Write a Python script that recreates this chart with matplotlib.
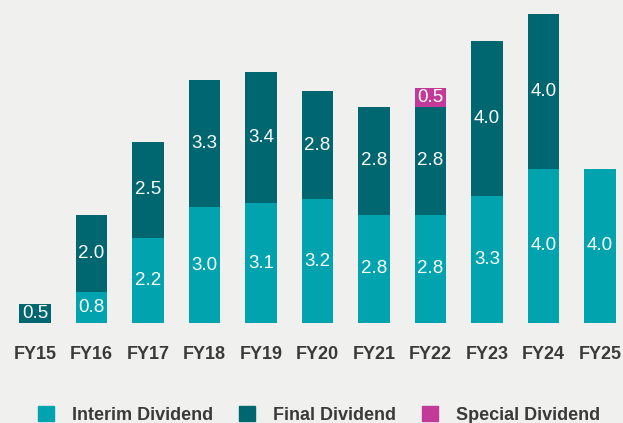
import matplotlib
matplotlib.use("Agg")
import matplotlib.pyplot as plt
from matplotlib.patches import Patch
import numpy as np

years = ["FY15", "FY16", "FY17", "FY18", "FY19", "FY20", "FY21", "FY22", "FY23", "FY24", "FY25"]
interim = [0.0, 0.8, 2.2, 3.0, 3.1, 3.2, 2.8, 2.8, 3.3, 4.0, 4.0]
final = [0.5, 2.0, 2.5, 3.3, 3.4, 2.8, 2.8, 2.8, 4.0, 4.0, 0.0]
special = [0.0, 0.0, 0.0, 0.0, 0.0, 0.0, 0.0, 0.5, 0.0, 0.0, 0.0]

c_int = "#00a3ae"
c_fin = "#00666f"
c_spe = "#c2399a"
bg = "#f0f0ee"
txt = "#3a3a3a"

plt.rcParams['font.family'] = ['Liberation Sans', 'DejaVu Sans']

W, H = 623, 423
fig = plt.figure(figsize=(W / 100, H / 100), dpi=100, facecolor=bg)
ax = fig.add_axes([0, (H - 323) / H, 1, 323 / H])
ax.set_facecolor(bg)

x = np.arange(len(years))
interim = np.array(interim)
final = np.array(final)
special = np.array(special)
width = 0.55

b1 = ax.bar(x, interim, width, color=c_int)
b2 = ax.bar(x, final, width, bottom=interim, color=c_fin)
b3 = ax.bar(x, special, width, bottom=interim + final, color=c_spe)

for bars, vals, bots in [(b1, interim, np.zeros_like(interim)), (b2, final, interim), (b3, special, interim + final)]:
    for xi, v, b in zip(x, vals, bots):
        if v > 0:
            ax.text(xi, b + v / 2, f"{v:.1f}", ha="center", va="center", color="white", fontsize=13.5)

px_per_unit = 38.6
ax.set_ylim(0, 323 / px_per_unit)
ax.set_xlim(-35 / 56.5, -35 / 56.5 + W / 56.5)
ax.set_yticks([])
ax.set_xticks(x)
ax.set_xticklabels(years, fontsize=13, fontweight="bold", color=txt)
ax.tick_params(axis="x", length=0, pad=16.5)
for s in ax.spines.values():
    s.set_visible(False)

handles = [Patch(color=c_int), Patch(color=c_fin), Patch(color=c_spe)]
labels = ["Interim Dividend", "Final Dividend", "Special Dividend"]
leg = fig.legend(handles, labels, loc="center left", bbox_to_anchor=(38 / W, (H - 415) / H),
                 ncol=3, frameon=False, borderpad=0, borderaxespad=0,
                 handlelength=0.89, handleheight=0.89, handletextpad=1.0, columnspacing=1.44,
                 prop={"weight": "bold", "size": 13})
for t in leg.get_texts():
    t.set_color(txt)

fig.savefig("out.png", dpi=100, facecolor=bg)
